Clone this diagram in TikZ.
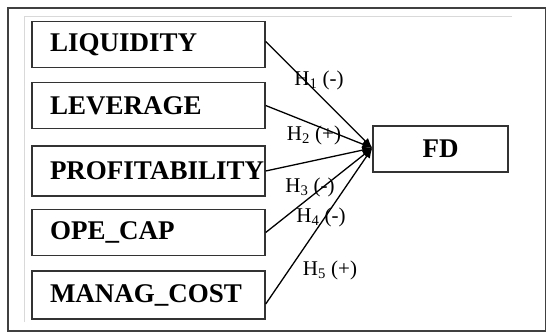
\documentclass[tikz,border=0pt]{standalone}
\usepackage{fontspec}
\setmainfont{Liberation Serif}
\usetikzlibrary{arrows.meta}
\tikzset{
  varbox/.style={draw=black!80,line width=1.4pt,minimum height=46pt,
    text width=233pt,inner xsep=0pt,align=left,
    font=\fontsize{27}{29}\selectfont\bfseries},
  hyp/.style={font=\fontsize{21}{23}\selectfont,inner sep=1pt},
  link/.style={line width=1.3pt,-{Latex[length=10pt,width=8pt]}}
}
\begin{document}
\begin{tikzpicture}[x=1pt,y=1pt]
          \useasboundingbox (0,0) rectangle (546,333);
          \draw[black!75,line width=1.2pt] (8,2) rectangle (545.4,325);
          \draw[black!15,line width=1pt] (24,11) -- (24,317) -- (512,317);
          % variables
          \node[varbox] (liq) at (148.5,288.5) {\hspace*{18pt}LIQUIDITY};
          \node[varbox] (lev) at (148.5,227.5) {\hspace*{18pt}LEVERAGE};
          \node[varbox,minimum height=50pt] (prof) at (148.5,162) {\hspace*{18pt}PROFITABILITY};
          \node[varbox] (ope) at (148.5,100.5) {\hspace*{18pt}OPE\_CAP};
          \node[varbox,minimum height=48pt] (man) at (148.5,38) {\hspace*{18pt}MANAG\_COST};
          \node[draw=black!80,line width=1.4pt,minimum width=135pt,minimum height=46pt,
            font=\fontsize{27}{29}\selectfont\bfseries] (fd) at (440.5,184) {FD};
          % hypotheses
          \draw[link] ([yshift=3pt]liq.east) -- ([yshift=1pt]fd.west);
          \draw[link] (lev.east) -- ([yshift=1pt]fd.west);
          \draw[link] (prof.east) -- ([yshift=1pt]fd.west);
          \draw[link] (ope.east) -- ([yshift=1pt]fd.west);
          \draw[link] ([yshift=-9pt]man.east) -- ([yshift=1pt]fd.west);
          \node[hyp] (h1) at (319,253) {H\textsubscript{1} (-)};
          \node[hyp] (h2) at (314,198) {H\textsubscript{2} (+)};
          \node[hyp] (h3) at (310,146) {H\textsubscript{3} (-)};
          \node[hyp] (h4) at (321,116) {H\textsubscript{4} (-)};
          \node[hyp] (h5) at (330,63) {H\textsubscript{5} (+)};
      \end{tikzpicture}
\end{document}
